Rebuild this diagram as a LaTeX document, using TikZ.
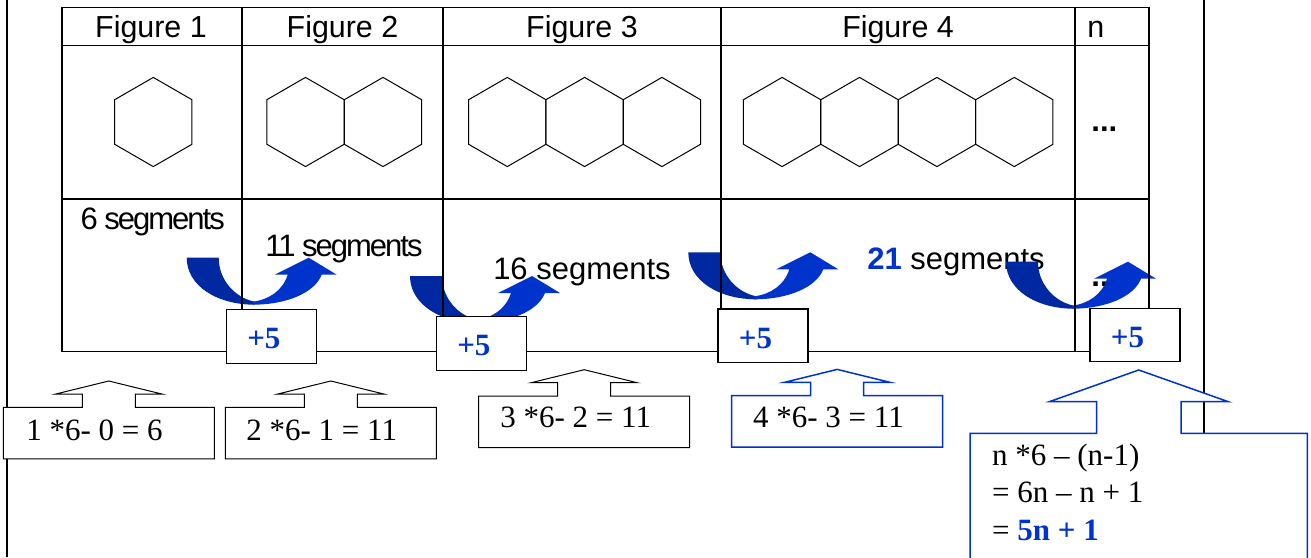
\documentclass[tikz,border=0pt]{standalone}
\usepackage{fontspec}
\setmainfont{Liberation Serif}
\newfontfamily\arialfont{Liberation Sans}

\definecolor{arrowdark}{RGB}{0,40,160}
\definecolor{arrowblue}{RGB}{0,51,204}

\tikzset{
  tableline/.style={line width=0.7pt},
  hexline/.style={line width=0.5pt},
  headtext/.style={font=\arialfont\fontsize{15.2}{18}\selectfont, inner sep=0pt, anchor=base},
  segtext/.style={font=\arialfont\fontsize{15.5}{18}\selectfont, inner sep=0pt, anchor=base},
  tighttext/.style={font=\arialfont\fontsize{15.5}{18}\selectfont\addfontfeature{LetterSpace=-6.5}, inner sep=0pt, anchor=base},
  plusbox/.style={draw, line width=0.6pt, fill=white, text=arrowblue, font=\bfseries\fontsize{15.5}{18}\selectfont,
    text width=24pt, align=left, inner xsep=10.5pt, inner ysep=0pt, minimum height=26.75pt,
    text height=12.5pt, text depth=0pt, anchor=north west},
  mathtext/.style={font=\fontsize{15.5}{18}\selectfont, inner sep=0pt, anchor=base west},
  blackcall/.style={draw=black, fill=white, line width=0.5pt},
  bluecall/.style={draw=arrowblue, fill=white, line width=0.75pt},
}

\newcommand{\bendarrow}[2]{%
  \begin{scope}[shift={(#1,#2)}]
    \fill[arrowdark] (0,0) .. controls (0,28) and (30,47) .. (68,47) -- (68,44) .. controls (48,40) and (32,22) .. (32,0) -- cycle;
    \fill[arrowblue] (66,47) .. controls (100,47) and (128,35) .. (135,17) -- (150,17) -- (122,0) -- (88,17) -- (101,17) .. controls (96,33) and (82,42) .. (66,44) -- cycle;
  \end{scope}}

\newcommand{\upcallout}[3][blackcall]{%
  \filldraw[#1] (#2,#3) ++(0,51.5) -- ++(0,-51.5) -- ++(79,0) -- ++(0,-13.3) -- ++(-26.5,0) -- ++(53,-13) -- ++(53,13)
    -- ++(-26.5,0) -- ++(0,13.3) -- ++(79,0) -- ++(0,51.5) -- cycle;}

\begin{document}
\begin{tikzpicture}[x=0.5pt,y=-0.5pt]
\useasboundingbox (0,0) rectangle (1311,557);
\clip (0,0) rectangle (1311,557);

\draw[line width=0.65pt] (7,0) -- (7,557);
\draw[line width=0.65pt] (1204,0) -- (1204,557);

\node[headtext] (fig1) at (151,37.3) {Figure 1};
\node[headtext] (fig2) at (342.5,37.3) {Figure 2};
\node[headtext] (fig3) at (582,37.3) {Figure 3};
\node[headtext] (fig4) at (898,37.3) {Figure 4};
\node[headtext, anchor=base west] (fign) at (1087,37.3) {n};

\node[segtext, anchor=base west] (dotsa) at (1091,131) {\bfseries...};

\foreach \cx in {153.3,305.5,383,507.3,584.6,661.9,782.1,859.5,936.9,1014.3}
  \draw[hexline] (\cx,122) +(90:44.6) -- +(150:44.6) -- +(210:44.6) -- +(270:44.6) -- +(330:44.6) -- +(30:44.6) -- cycle;

\node[tighttext] (seg1) at (152.7,229.3) {6 segments};
\node[tighttext] (seg2) at (344,256) {11 segments};
\node[segtext] (seg3) at (582,279) {16 segments};
\node[segtext] (seg4) at (956,269.3) {\textcolor{arrowblue}{\bfseries 21} segments};
\node[segtext, anchor=base west] (dotsb) at (1091,286) {\bfseries...};

\bendarrow{186.7}{257.7}
\bendarrow{410}{276}
\bendarrow{688.3}{252.3}
\bendarrow{1006}{261.7}

\draw[tableline] (62,7.7) rectangle (1149,351.5);
\draw[tableline] (62,45.7) -- (1149,45.7);
\draw[tableline] (62,199) -- (1149,199);
\foreach \xc in {242,443,721,1075}
  \draw[tableline] (\xc,7.7) -- (\xc,351.5);

\node[plusbox] (plus1) at (225.7,309) {+5};
\node[plusbox] (plus2) at (435.7,316) {+5};
\node[plusbox] (plus3) at (717.3,308.3) {+5};
\node[plusbox] (plus4) at (1089.3,307.7) {+5};

\upcallout{3.3}{407.3}
\upcallout{225.3}{407.3}
\upcallout{478.7}{396}
\upcallout[bluecall]{731.7}{395.7}
\node[mathtext] (calc1) at (26,440.7) {1 *6- 0 = 6};
\node[mathtext] (calc2) at (246,440.7) {2 *6- 1 = 11};
\node[mathtext] (calc3) at (500,427.3) {3 *6- 2 = 11};
\node[mathtext] (calc4) at (752.7,427.7) {4 *6- 3 = 11};

\filldraw[bluecall] (970,580) -- (970,433.3) -- (1096.7,433.3) -- (1096.7,401.7) -- (1049.3,401.7) -- (1138.7,370)
  -- (1228.3,401.7) -- (1181,401.7) -- (1181,433.3) -- (1307.3,433.3) -- (1307.3,580) -- cycle;
\node[mathtext] (gen1) at (991.7,465.7) {n *6 – (n-1)};
\node[mathtext] (gen2) at (991.7,502.3) {= 6n – n + 1};
\node[mathtext] (gen3) at (991.7,540) {= \textcolor{arrowblue}{\bfseries 5n + 1}};
\end{tikzpicture}
\end{document}
